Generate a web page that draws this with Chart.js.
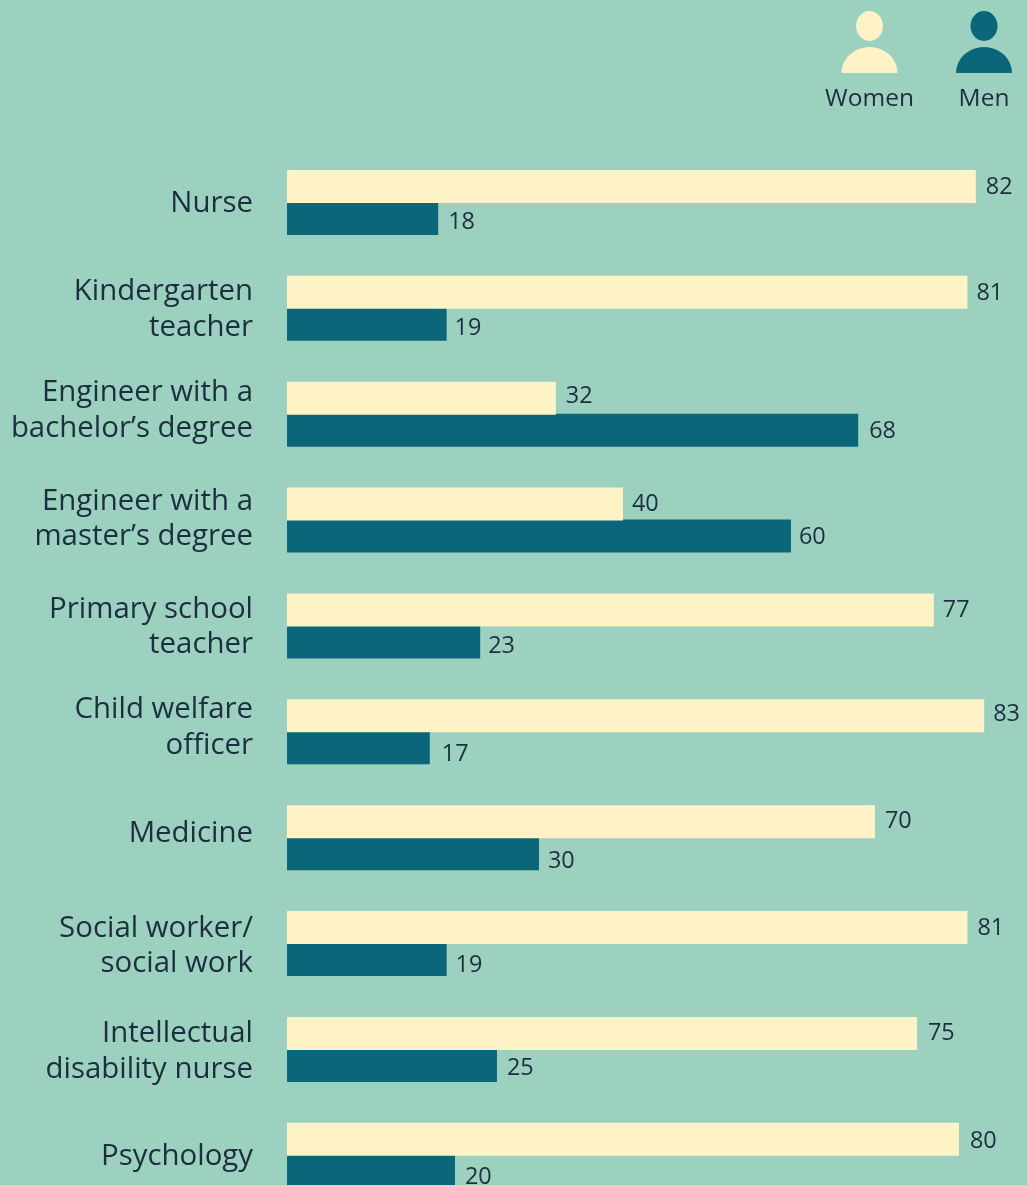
<!DOCTYPE html>
<html>
<head>
<meta charset="utf-8">
<title>Women and men by field of work</title>
<script src="https://cdn.jsdelivr.net/npm/chart.js@4/dist/chart.umd.min.js"></script>
<style>
  html, body { margin: 0; padding: 0; background: #9BD1BE; overflow: hidden; }
  #frame { position: relative; width: 1027px; height: 1185px; overflow: hidden; }
  #frame canvas { position: absolute; left: 0; top: 0; }
</style>
</head>
<body>
<div id="frame"><canvas id="chart" width="1027" height="1260"></canvas></div>
<script>
// Share of women and men per occupation or field of study, in percent.
const categories = [
  ["Nurse"],
  ["Kindergarten", "teacher"],
  ["Engineer with a", "bachelor\u2019s degree"],
  ["Engineer with a", "master\u2019s degree"],
  ["Primary school", "teacher"],
  ["Child welfare", "officer"],
  ["Medicine"],
  ["Social worker/", "social work"],
  ["Intellectual", "disability nurse"],
  ["Psychology"]
];
const women = [82, 81, 32, 40, 77, 83, 70, 81, 75, 80];
const men = [18, 19, 68, 60, 23, 17, 30, 19, 25, 20];
const seriesNames = ["Women", "Men"];

const BACKGROUND = "#9BD1BE";
const CREAM = "#FEF3C6";
const TEAL = "#0A6678";
const INK = "#1C2E3F";
const FONT = '"Open Sans", sans-serif';

// Hand placement of the text around the bars: [dx, dy] in pixels.
const womenLabelNudge = [[10,1],[9,1],[10,-2],[9,0],[9,0],[9,-1],[10,0],[10,1],[11,0],[11,2]];
const menLabelNudge = [[10,4],[8,4],[11,1],[8,1],[8,4],[12,7],[9,8],[9,6],[10,3],[10,6]];
const categoryNudge = [1, 1.5, -3.5, -1, 1, -4, -4.5, 2.5, 2, 1];

// Shifts the y axis labels by the amounts in categoryNudge.
const axisLabelNudge = {
  id: "axisLabelNudge",
  afterLayout(chart) {
    const scale = chart.scales.y;
    scale._labelItems = null;
    scale.getLabelItems(chart.chartArea).forEach((item, i) => {
      item.options.translation = [
        item.options.translation[0],
        item.options.translation[1] + categoryNudge[i]
      ];
    });
  }
};

// Prints each value just past the end of its bar.
const valueLabels = {
  id: "valueLabels",
  afterDatasetsDraw(chart) {
    const ctx = chart.ctx;
    ctx.save();
    ctx.font = "23.4px " + FONT;
    ctx.fillStyle = INK;
    ctx.textAlign = "left";
    ctx.textBaseline = "middle";
    chart.data.datasets.forEach((dataset, d) => {
      const nudge = d === 0 ? womenLabelNudge : menLabelNudge;
      chart.getDatasetMeta(d).data.forEach((bar, i) => {
        ctx.fillText(String(dataset.data[i]), bar.x + nudge[i][0], bar.y + nudge[i][1]);
      });
    });
    ctx.restore();
  }
};

// Person icons with their captions in the top right corner.
const personKey = {
  id: "personKey",
  afterDraw(chart) {
    const ctx = chart.ctx;
    const people = [
      { name: seriesNames[0], cx: 869.5, color: CREAM },
      { name: seriesNames[1], cx: 984, color: TEAL }
    ];
    ctx.save();
    people.forEach(p => {
      ctx.fillStyle = p.color;
      ctx.beginPath();
      ctx.ellipse(p.cx, 26, 13.5, 15, 0, 0, Math.PI * 2);
      ctx.fill();
      ctx.beginPath();
      ctx.ellipse(p.cx, 73, 28, 26, 0, Math.PI, Math.PI * 2);
      ctx.closePath();
      ctx.fill();
      ctx.fillStyle = INK;
      ctx.font = "24.5px " + FONT;
      ctx.textAlign = "center";
      ctx.textBaseline = "middle";
      ctx.fillText(p.name, p.cx, 99);
    });
    ctx.restore();
  }
};

new Chart(document.getElementById("chart"), {
  type: "bar",
  data: {
    labels: categories,
    datasets: [
      { label: seriesNames[0], data: women, backgroundColor: CREAM },
      { label: seriesNames[1], data: men, backgroundColor: TEAL }
    ]
  },
  options: {
    indexAxis: "y",
    responsive: false,
    animation: false,
    layout: { padding: { top: 149.5, left: 0, right: 0, bottom: 0 } },
    datasets: { bar: { categoryPercentage: 0.6046, barPercentage: 1.03, borderWidth: 0 } },
    plugins: { legend: { display: false }, tooltip: { enabled: false } },
    scales: {
      x: {
        display: false,
        min: 0,
        max: 740 / 8.4,
        grid: { display: false }
      },
      y: {
        afterFit(scale) { scale.width = 287; },
        grid: { display: false, drawTicks: false },
        border: { display: false },
        ticks: {
          color: INK,
          padding: 34,
          autoSkip: false,
          font: { family: FONT, size: 29.4, lineHeight: 1.21 }
        }
      }
    }
  },
  plugins: [
    { id: "backdrop", beforeDraw(chart) { chart.ctx.fillStyle = BACKGROUND; chart.ctx.fillRect(0, 0, chart.width, chart.height); } },
    axisLabelNudge,
    valueLabels,
    personKey
  ]
});
</script>
</body>
</html>
